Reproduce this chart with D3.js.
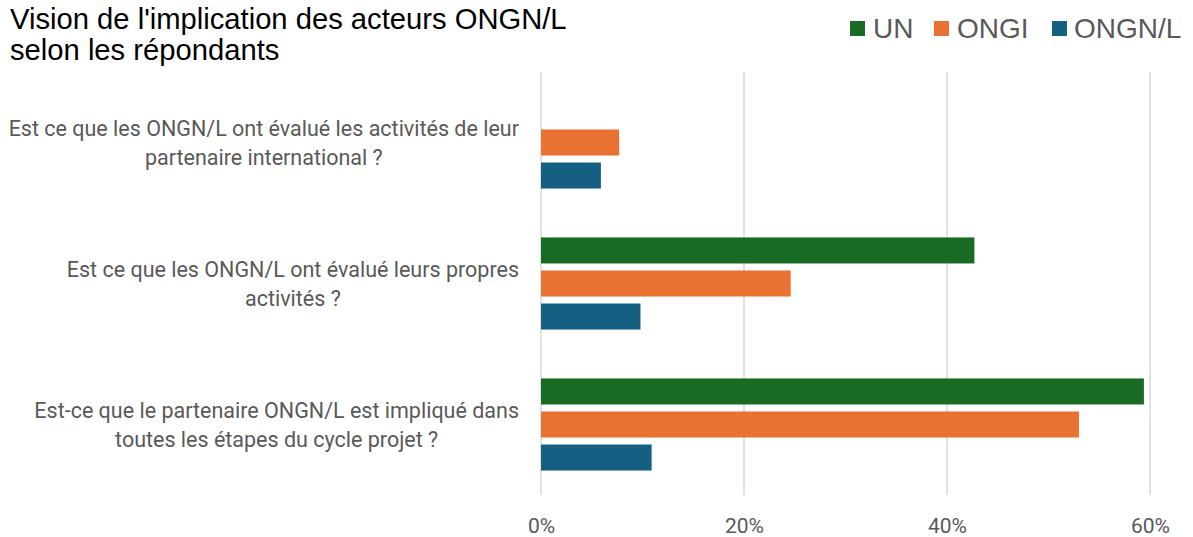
<!DOCTYPE html>
<html>
<head>
<meta charset="utf-8">
<script src="https://cdn.jsdelivr.net/npm/d3@7"></script>
<style>
  body { margin: 0; background: #fff; }
  svg { display: block; }
</style>
</head>
<body>
<script>
// Données
const categories = [
  "Est ce que les ONGN/L ont évalué les activités de leur partenaire international ?",
  "Est ce que les ONGN/L ont évalué leurs propres activités ?",
  "Est-ce que le partenaire ONGN/L est impliqué dans toutes les étapes du cycle projet ?"
]
const categoryLines = [
  ["Est ce que les ONGN/L ont évalué les activités de leur", "partenaire international ?"],
  ["Est ce que les ONGN/L ont évalué leurs propres", "activités ?"],
  ["Est-ce que le partenaire ONGN/L est impliqué dans", "toutes les étapes du cycle projet ?"]
]
const seriesNames = ["UN", "ONGI", "ONGN/L"]
const seriesColors = ["#196B24", "#E97132", "#156082"]
const valuesUN = [0, 42.7, 59.4]
const valuesONGI = [7.7, 24.6, 53.0]
const valuesONGNL = [5.9, 9.8, 10.9]
const xTicks = [0, 20, 40, 60]

const width = 1193, height = 537

let svg = d3.select("body")
        .append("svg")
        .attr("width", width)
        .attr("height", height)

// Titre
let title = svg.append("text")
        .attr("x", 10)
        .attr("y", 29)
        .style("font-family", "Liberation Sans, Arial, sans-serif")
        .style("font-size", "29.2px")
        .style("fill", "#000")
title.append("tspan").attr("x", 10).attr("dy", 0).text("Vision de l'implication des acteurs ONGN/L")
title.append("tspan").attr("x", 10).attr("dy", 31).text("selon les répondants")

// Échelles
let x = d3.scaleLinear().domain([0, 60]).range([541, 1150])
let y = d3.scaleBand().domain(categories).range([72, 495])
let yInner = d3.scaleBand().domain(seriesNames)
        .range([0, y.bandwidth()])
        .paddingInner(0.212)
        .paddingOuter(0.74)
let color = d3.scaleOrdinal().domain(seriesNames).range(seriesColors)

// Grille verticale
svg.append("g")
        .selectAll("line")
        .data(xTicks)
        .join("line")
        .attr("x1", d => x(d)).attr("x2", d => x(d))
        .attr("y1", 72).attr("y2", 495)
        .style("stroke", "#d9d9d9")
        .style("stroke-width", 1.5)

// Axe X (texte seulement)
let xAxis = svg.append("g")
        .attr("transform", "translate(0,515)")
        .call(d3.axisBottom(x).tickValues(xTicks).tickFormat(d => d + "%").tickSize(0))
xAxis.select(".domain").remove()
xAxis.selectAll("text")
        .style("font-family", "Roboto, sans-serif")
        .style("font-size", "21px")
        .style("fill", "#595959")

// Barres
let rows = categories.map((c, i) => ({
    cat: c,
    values: [valuesUN[i], valuesONGI[i], valuesONGNL[i]]
}))

let groups = svg.append("g")
        .selectAll("g")
        .data(rows)
        .join("g")
        .attr("transform", d => "translate(0," + y(d.cat) + ")")

groups.selectAll("rect")
        .data(d => d.values.map((v, j) => ({ name: seriesNames[j], value: v })).filter(s => s.value > 0))
        .join("rect")
        .attr("x", x(0))
        .attr("y", d => yInner(d.name))
        .attr("width", d => x(d.value) - x(0))
        .attr("height", yInner.bandwidth())
        .attr("fill", d => color(d.name))

// Libellés des catégories (texte centré, bloc aligné à droite)
let labelRight = 519
let lineH = 29
categories.forEach((c, i) => {
    let lines = categoryLines[i]
    let cy = y(c) + y.bandwidth() / 2
    let g = svg.append("g")
    let texts = g.selectAll("text")
            .data(lines)
            .join("text")
            .attr("y", (d, k) => cy + (k - (lines.length - 1) / 2) * lineH)
            .attr("dominant-baseline", "central")
            .attr("text-anchor", "middle")
            .style("font-family", "Roboto, sans-serif")
            .style("font-size", "21.5px")
            .style("fill", "#595959")
            .text(d => d)
    let maxW = d3.max(texts.nodes(), n => n.getComputedTextLength())
    texts.attr("x", labelRight - maxW / 2)
})

// Légende
let legendItems = [
    { name: "UN", sx: 850, tx: 873 },
    { name: "ONGI", sx: 934, tx: 957 },
    { name: "ONGN/L", sx: 1052, tx: 1074 }
]
let legend = svg.append("g")
legend.selectAll("rect")
        .data(legendItems)
        .join("rect")
        .attr("x", d => d.sx)
        .attr("y", 21)
        .attr("width", 15)
        .attr("height", 15)
        .attr("fill", d => color(d.name))
legend.selectAll("text")
        .data(legendItems)
        .join("text")
        .attr("x", d => d.tx)
        .attr("y", 38)
        .style("font-family", "Liberation Sans, Arial, sans-serif")
        .style("font-size", "28px")
        .style("fill", "#595959")
        .text(d => d.name)
</script>
</body>
</html>
